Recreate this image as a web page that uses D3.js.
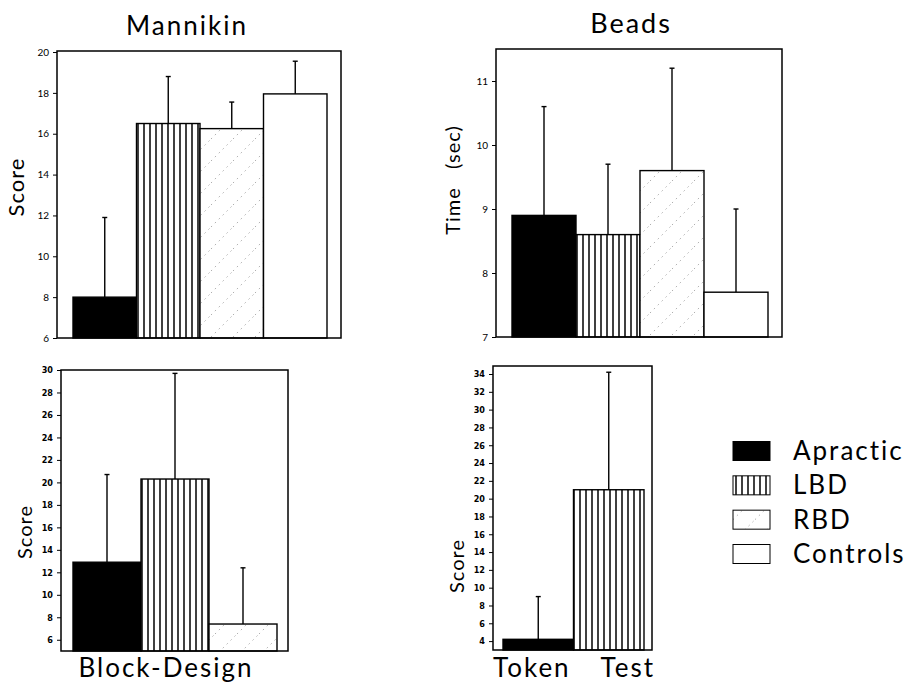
<!DOCTYPE html>
<html>
<head>
<meta charset="utf-8">
<script src="https://cdn.jsdelivr.net/npm/d3@7"></script>
<style>
  body { margin: 0; background: #fff; }
  svg { display: block; }
  text { font-family: "Lato", "Noto Sans", sans-serif; fill: #000; }
  .big { letter-spacing: 2px; }
  .tick text { font-size: 10px; }
  .narrow .tick text { font-family: "Liberation Sans Narrow", "DejaVu Sans Condensed", sans-serif; font-size: 9px; font-weight: bold; }
</style>
</head>
<body>
<svg id="chart"></svg>
<script>
/*
Data (means and the top of each error bar as +SD)
*/
var groups = ["Apractic", "LBD", "RBD", "Controls"];

var mannikinMeans = [8.0, 16.5, 16.25, 17.95];
var mannikinSD = [3.9, 2.3, 1.3, 1.6];
var mannikinTicks = [6, 8, 10, 12, 14, 16, 18, 20];

var beadsMeans = [8.9, 8.6, 9.6, 7.7];
var beadsSD = [1.7, 1.1, 1.6, 1.3];
var beadsTicks = [7, 8, 9, 10, 11];

var blockMeans = [12.9, 20.3, 7.4];
var blockSD = [7.8, 9.4, 5.0];
var blockTicks = [6, 8, 10, 12, 14, 16, 18, 20, 22, 24, 26, 28, 30];

var tokenMeans = [4.2, 21.0];
var tokenSD = [4.8, 13.2];
var tokenTicks = [4, 6, 8, 10, 12, 14, 16, 18, 20, 22, 24, 26, 28, 30, 32, 34];

var width = 914;
var height = 685;

var svg = d3.select("#chart").attr("width", width).attr("height", height);

/*
Fill patterns
*/
var defs = svg.append("defs");

var stripes = defs
  .append("pattern")
  .attr("id", "stripes")
  .attr("patternUnits", "userSpaceOnUse")
  .attr("width", 6)
  .attr("height", 10);
stripes.append("rect").attr("width", 6).attr("height", 10).attr("fill", "#fff");
stripes
  .append("line")
  .attr("x1", 3).attr("x2", 3)
  .attr("y1", 0).attr("y2", 10)
  .attr("stroke", "#000")
  .attr("stroke-width", 1.5);

var hatch = defs
  .append("pattern")
  .attr("id", "hatch")
  .attr("patternUnits", "userSpaceOnUse")
  .attr("width", 22)
  .attr("height", 22);
hatch.append("rect").attr("width", 22).attr("height", 22).attr("fill", "#fff");
hatch
  .append("line")
  .attr("x1", 0).attr("y1", 22)
  .attr("x2", 22).attr("y2", 0)
  .attr("stroke", "#999")
  .attr("stroke-width", 0.8)
  .attr("stroke-dasharray", "1.5,4");

var fills = ["#000", "url(#stripes)", "url(#hatch)", "#fff"];

function drawPanel(opt) {
  var w = opt.right - opt.left;
  var h = opt.bottom - opt.top;
  var g = svg
    .append("g")
    .attr("class", opt.narrow ? "narrow" : null)
    .attr("transform", "translate(" + opt.left + "," + opt.top + ")");

  var yScale = d3.scaleLinear().domain(opt.domain).range([h, 0]);
  var xScale = d3
    .scaleBand()
    .domain(groups.slice(0, opt.means.length))
    .range([opt.padL, opt.padL + opt.barW * opt.means.length])
    .padding(0);

  var yAxis = d3
    .axisLeft(yScale)
    .tickValues(opt.ticks)
    .tickSize(4)
    .tickPadding(4)
    .tickFormat(d3.format("d"));
  var gY = g.append("g").attr("class", "y axis").call(yAxis);
  gY.select(".domain").remove();
  gY.selectAll(".tick line").attr("stroke-width", 1);

  var rows = opt.means.map(function (m, i) {
    return { group: groups[i], mean: m, sd: opt.sd[i], fill: fills[i] };
  });

  // error bars first, bars drawn on top
  var err = g.append("g").selectAll("g").data(rows).enter().append("g");
  err
    .append("line")
    .attr("x1", (d) => xScale(d.group) + xScale.bandwidth() / 2)
    .attr("x2", (d) => xScale(d.group) + xScale.bandwidth() / 2)
    .attr("y1", (d) => yScale(d.mean))
    .attr("y2", (d) => yScale(d.mean + d.sd))
    .attr("stroke", "#000")
    .attr("stroke-width", 1.4);
  err
    .append("line")
    .attr("x1", (d) => xScale(d.group) + xScale.bandwidth() / 2 - 2.5)
    .attr("x2", (d) => xScale(d.group) + xScale.bandwidth() / 2 + 2.5)
    .attr("y1", (d) => yScale(d.mean + d.sd))
    .attr("y2", (d) => yScale(d.mean + d.sd))
    .attr("stroke", "#000")
    .attr("stroke-width", 1.4);

  g.append("g")
    .selectAll("rect")
    .data(rows)
    .enter()
    .append("rect")
    .attr("x", (d) => xScale(d.group))
    .attr("width", xScale.bandwidth())
    .attr("y", (d) => yScale(d.mean))
    .attr("height", (d) => h - yScale(d.mean))
    .attr("fill", (d) => d.fill)
    .attr("stroke", "#000")
    .attr("stroke-width", 1.4);

  // frame
  g.append("rect")
    .attr("width", w)
    .attr("height", h)
    .attr("fill", "none")
    .attr("stroke", "#000")
    .attr("stroke-width", 1.5);

  // y label
  g.append("text")
    .attr("transform", "translate(" + opt.labelX + "," + opt.labelY + ") rotate(-90)")
    .attr("text-anchor", "middle")
    .style("font-size", opt.labelSize + "px")
    .style("letter-spacing", "1px")
    .text(opt.label);
}

drawPanel({
  left: 57, top: 51, right: 341, bottom: 338,
  domain: [6, 20.05], ticks: mannikinTicks,
  means: mannikinMeans, sd: mannikinSD,
  padL: 16, barW: 63.5,
  label: "Score", labelX: -33, labelY: 136, labelSize: 22
});

drawPanel({
  left: 496, top: 49, right: 782, bottom: 337,
  domain: [7, 11.5], ticks: beadsTicks,
  means: beadsMeans, sd: beadsSD,
  padL: 16, barW: 64,
  label: "Time\u00a0\u00a0\u00a0(sec)", labelX: -36, labelY: 131, labelSize: 20
});

drawPanel({
  left: 61, top: 370, right: 288, bottom: 651,
  domain: [5, 30], ticks: blockTicks,
  means: blockMeans, sd: blockSD,
  padL: 12, barW: 68,
  narrow: true,
  label: "Score", labelX: -29, labelY: 162, labelSize: 20
});

drawPanel({
  left: 493, top: 366, right: 652, bottom: 650,
  domain: [3, 34.9], ticks: tokenTicks,
  means: tokenMeans, sd: tokenSD,
  padL: 10, barW: 70.5,
  narrow: true,
  label: "Score", labelX: -29, labelY: 200, labelSize: 20
});

/*
Titles
*/
svg.append("text").attr("class", "big").attr("x", 187).attr("y", 35).attr("text-anchor", "middle")
  .style("font-size", "26px").text("Mannikin");
svg.append("text").attr("class", "big").attr("x", 631).attr("y", 33).attr("text-anchor", "middle")
  .style("font-size", "27px").text("Beads");
svg.append("text").attr("class", "big").attr("x", 166).attr("y", 677).attr("text-anchor", "middle")
  .style("font-size", "26px").text("Block-Design");
svg.append("text").attr("class", "big").attr("x", 493).attr("y", 677)
  .style("font-size", "26px").text("Token");
svg.append("text").attr("class", "big").attr("x", 655).attr("y", 677).attr("text-anchor", "end")
  .style("font-size", "26px").text("Test");

/*
Legend
*/
var legendY = d3.scalePoint().domain(groups).range([451, 554]);
var legend = svg.append("g").selectAll("g").data(groups).enter().append("g")
  .attr("transform", (d) => "translate(733," + legendY(d) + ")");
legend.append("rect")
  .attr("x", 0).attr("y", -9.5)
  .attr("width", 37).attr("height", 19)
  .attr("fill", (d, i) => fills[i])
  .attr("stroke", "#000")
  .attr("stroke-width", 1);
legend.append("text")
  .attr("class", "big")
  .attr("x", 60).attr("y", 9)
  .style("font-size", "26px")
  .text((d) => d);
</script>
</body>
</html>
